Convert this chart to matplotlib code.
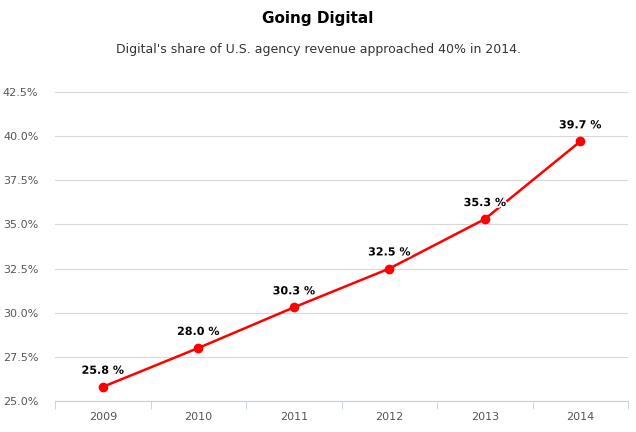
import matplotlib.pyplot as plt
import matplotlib.patheffects as pe

years = ['2009', '2010', '2011', '2012', '2013', '2014']
share = [25.8, 28.0, 30.3, 32.5, 35.3, 39.7]
yticks = [25.0, 27.5, 30.0, 32.5, 35.0, 37.5, 40.0, 42.5]

fig = plt.figure(figsize=(6.36, 4.32), dpi=100)
ax = fig.add_axes([55/636, 31/432, 573/636, 309/432])

x = list(range(len(years)))
ax.plot(x, share, color='#ff0000', lw=1.8, marker='o', ms=6, zorder=3)
for xi, v in zip(x, share):
    ax.annotate('%.1f %%' % v, (xi, v), xytext=(0, 8), textcoords='offset points',
                ha='center', va='bottom', fontsize=8, fontweight='bold', color='black',
                path_effects=[pe.withStroke(linewidth=2.5, foreground='white')])

ax.set_xlim(-0.5, 5.5)
ax.set_ylim(25, 42.5)
ax.set_yticks(yticks)
ax.set_yticklabels(['%.1f%%' % t for t in yticks])
ax.set_xticks(x)
ax.set_xticklabels(years)
ax.set_xticks([i + 0.5 for i in range(-1, 6)], minor=True)
ax.tick_params(axis='x', which='major', length=0, pad=8, labelsize=8, colors='#555555')
ax.tick_params(axis='x', which='minor', length=6, color='#c0d0e0')
ax.tick_params(axis='y', length=0, pad=12, labelsize=8, colors='#555555')
for lbl in ax.get_yticklabels():
    lbl.set_color('#555555')
ax.grid(axis='y', color='#d8d8d8', lw=0.8)
for s in ['top', 'right', 'left']:
    ax.spines[s].set_visible(False)
ax.spines['bottom'].set_color('#c0d0e0')
ax.set_axisbelow(True)

fig.text(0.5, 1 - 18/432, 'Going Digital', ha='center', va='center',
         fontsize=11, fontweight='bold', color='#000000')
fig.text(0.5, 1 - 49/432, "Digital's share of U.S. agency revenue approached 40% in 2014.",
         ha='center', va='center', fontsize=9, color='#333333')

fig.savefig('out.png', dpi=100)
